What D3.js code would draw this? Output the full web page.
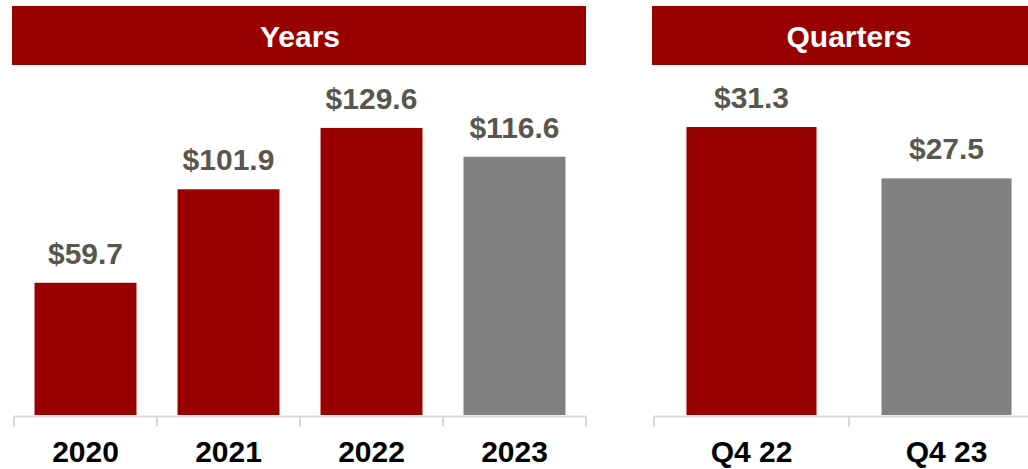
<!DOCTYPE html>
<html lang="en">
<head>
    <meta charset="UTF-8">
    <title>Years and Quarters</title>
    <script src="https://cdn.jsdelivr.net/npm/d3@7"></script>
    <style>
        body { margin: 0; background: #fff; }
        svg { display: block; font-family: "Liberation Sans", Arial, sans-serif; }
    </style>
</head>
<body>
    <svg id="chart" width="1028" height="469"></svg>

    <script>
        // data
        const years = ["2020", "2021", "2022", "2023"];
        const yearValues = [59.7, 101.9, 129.6, 116.6];
        const yearColors = ["#990000", "#990000", "#990000", "#808080"];

        const quarters = ["Q4 22", "Q4 23"];
        const quarterValues = [31.3, 27.5];
        const quarterColors = ["#990000", "#808080"];

        const red = "#990000";
        const baseY = 415;

        const svg = d3.select("#chart");

        function panel(title, cats, vals, colors, x0, x1, pad, yDomain, yRange) {
            const g = svg.append("g");

            // title banner
            g.append("rect")
                .attr("x", x0 - 2)
                .attr("y", 6)
                .attr("width", x1 - x0 + 2)
                .attr("height", 59)
                .attr("fill", red);

            g.append("text")
                .attr("x", (x0 + x1) / 2)
                .attr("y", 47)
                .attr("text-anchor", "middle")
                .attr("font-size", "30px")
                .attr("font-weight", "bold")
                .attr("fill", "#fff")
                .text(title);

            const x = d3.scaleBand()
                .domain(cats)
                .range([x0, x1])
                .paddingInner(pad)
                .paddingOuter(pad / 2);

            const y = d3.scaleLinear()
                .domain(yDomain)
                .range(yRange);

            const data = cats.map((c, i) => ({ cat: c, val: vals[i], color: colors[i] }));

            g.selectAll(".bar")
                .data(data)
                .join("rect")
                .attr("class", "bar")
                .attr("x", d => x(d.cat))
                .attr("y", d => y(d.val))
                .attr("width", x.bandwidth())
                .attr("height", d => y(yDomain[0]) - y(d.val))
                .attr("fill", d => d.color);

            g.selectAll(".val")
                .data(data)
                .join("text")
                .attr("class", "val")
                .attr("x", d => x(d.cat) + x.bandwidth() / 2)
                .attr("y", d => y(d.val) - 19)
                .attr("text-anchor", "middle")
                .attr("font-size", "30px")
                .attr("font-weight", "bold")
                .attr("fill", "#57574e")
                .text(d => "$" + d.val.toFixed(1));

            // axis line + boundary ticks
            const axisY = baseY + 1.5;
            g.append("line")
                .attr("x1", x0).attr("x2", x1)
                .attr("y1", axisY).attr("y2", axisY)
                .attr("stroke", "#d9d9d9")
                .attr("stroke-width", 2);

            const step = x.step();
            const bounds = d3.range(cats.length + 1).map(i => x0 + i * step);
            g.selectAll(".tick")
                .data(bounds)
                .join("line")
                .attr("class", "tick")
                .attr("x1", d => d).attr("x2", d => d)
                .attr("y1", axisY).attr("y2", axisY + 10)
                .attr("stroke", "#d9d9d9")
                .attr("stroke-width", 2);

            g.selectAll(".cat")
                .data(data)
                .join("text")
                .attr("class", "cat")
                .attr("x", d => x(d.cat) + x.bandwidth() / 2)
                .attr("y", 462)
                .attr("text-anchor", "middle")
                .attr("font-size", "30px")
                .attr("font-weight", "bold")
                .attr("fill", "#000")
                .text(d => d.cat);
        }

        panel("Years", years, yearValues, yearColors, 14, 586, 0.287, [0, 150], [baseY, baseY - 150 * 2.215]);
        panel("Quarters", quarters, quarterValues, quarterColors, 654, 1044, 0.333, [10, 35], [baseY, baseY - 25 * 13.52]);
    </script>
</body>
</html>
